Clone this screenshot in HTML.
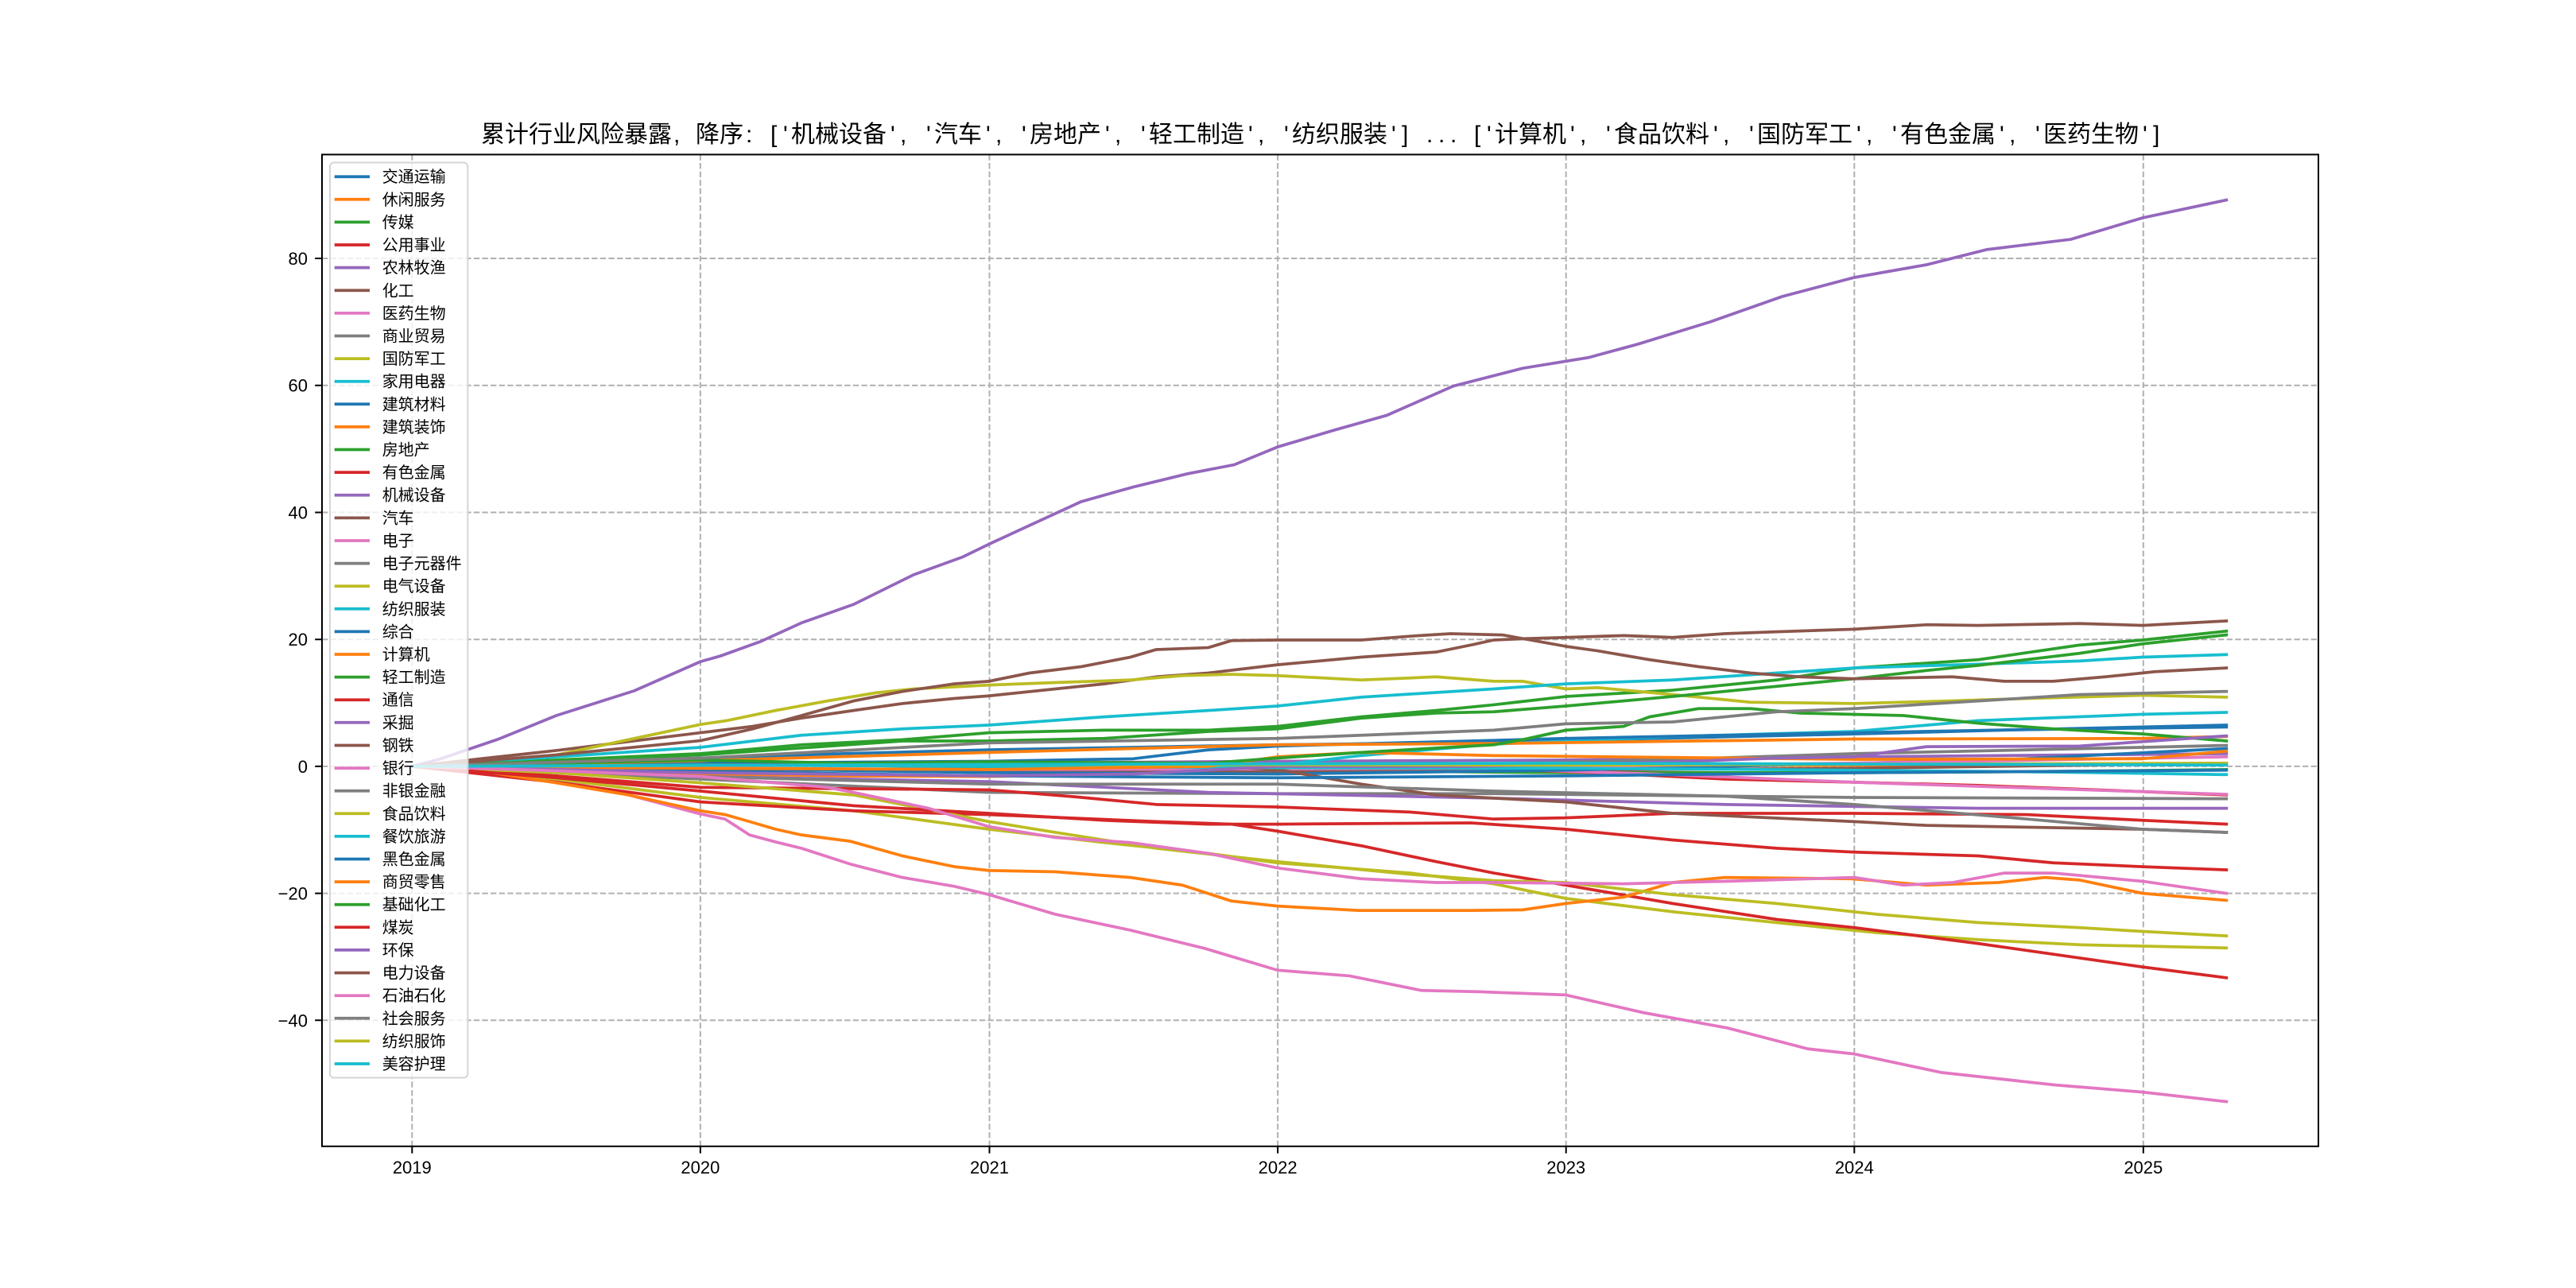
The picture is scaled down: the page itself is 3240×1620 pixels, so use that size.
<!DOCTYPE html>
<html><head><meta charset="utf-8">
<style>
html,body{margin:0;padding:0;background:#fff;width:3240px;height:1620px;overflow:hidden}
svg{display:block}
.d polyline{fill:none;stroke-width:3.75;vector-effect:non-scaling-stroke;stroke-linejoin:round;stroke-linecap:square}
text{font-family:"Liberation Sans","Noto Sans CJK SC",sans-serif;fill:#000}
.lg path{stroke-width:3.75;fill:none}
</style></head>
<body>
<svg width="3240" height="1620" viewBox="0 0 3240 1620" xmlns="http://www.w3.org/2000/svg">
<rect x="0" y="0" width="3240" height="1620" fill="#fff"/>
<!-- grid -->
<g stroke="#b0b0b0" stroke-width="2" stroke-dasharray="7.4 3.2" fill="none">
<path d="M518.3 194.4V1441.8M880.9 194.4V1441.8M1244.5 194.4V1441.8M1607.1 194.4V1441.8M1969.7 194.4V1441.8M2332.3 194.4V1441.8M2695.8 194.4V1441.8"/>
<path d="M405 325H2916M405 484.7H2916M405 644.5H2916M405 804.2H2916M405 963.9H2916M405 1123.6H2916M405 1283.3H2916"/>
</g>
<!-- data -->
<g class="d" transform="matrix(362.8 0 0 -7.986 518.3 963.9)">
<polyline stroke="#1f77b4" points="0,0 0.5,0.6 1,1.3 1.5,2 2,2.6 2.5,3 3,3.4 3.75,3.8 4.4,4.5 5,5.1 5.6,5.8 6.29,6.5"/>
<polyline stroke="#ff7f0e" points="0,0 0.5,-0.6 1,-1.2 1.5,-1.5 2,-1.6 2.4,-1.2 2.76,-0.3 3.5,0.3 4.3,0.1 5,0.2 5.7,0.3 6.29,0.5"/>
<polyline stroke="#2ca02c" points="0,0 0.5,0.3 1,0.5 1.5,0.2 2,-0.2 3,-0.6 4,-1 5,-1 5.7,-0.8 6.29,-0.5"/>
<polyline stroke="#d62728" points="0,0 0.5,-0.3 1,-0.5 2,-0.5 3,-0.3 3.67,-0.3 4.1,-1 4.55,-2 5,-2.5 5.43,-3 5.9,-3.8 6.29,-4.5"/>
<polyline stroke="#9467bd" points="0,0 1,0.3 2,0.5 3,0.8 4,1 5,1.5 6.29,2"/>
<polyline stroke="#8c564b" points="0,0 1,-0.5 2,-0.7 3,-0.8 4,-0.6 5,-0.3 6.29,0.5"/>
<polyline stroke="#e377c2" points="0,0 0.25,-0.8 0.5,-2.1 0.75,-4.5 1,-7.5 1.085,-8.3 1.17,-10.8 1.26,-11.9 1.35,-12.9 1.52,-15.4 1.7,-17.5 1.88,-18.9 2,-20.2 2.23,-23.3 2.49,-25.8 2.75,-28.7 3,-32.1 3.25,-33 3.5,-35.3 3.7,-35.5 4,-36 4.27,-38.8 4.56,-41.2 4.84,-44.5 5,-45.3 5.3,-48.2 5.7,-50.2 6,-51.3 6.29,-52.8"/>
<polyline stroke="#7f7f7f" points="0,0 1,0.3 2,0.2 3,0.2 3.67,0.3 4.3,1 5,2 5.6,2.6 6,3 6.29,3.3"/>
<polyline stroke="#bcbd22" points="0,0 0.5,-2 1,-4.9 1.53,-7 2,-9.9 2.4,-12 2.76,-13.7 3,-15.2 3.46,-16.8 3.75,-18.5 4,-20.8 4.37,-22.9 4.73,-24.6 5.08,-26.2 5.43,-27.3 5.78,-28.1 6.29,-28.6"/>
<polyline stroke="#17becf" points="0,0 1,0.3 2,0 2.76,0 3,0.2 3.29,1.7 3.75,3.5 4.37,4.7 5,5.5 5.43,7.2 6,8.2 6.29,8.5"/>
<polyline stroke="#1f77b4" points="0,0 1,0.5 2,0.8 2.5,1.2 2.76,2.6 3,3.2 4,4.4 5,5.3 5.6,5.8 6.29,6.2"/>
<polyline stroke="#ff7f0e" points="0,0 1,0.9 2,2.2 3,3.4 3.75,3.6 5,4.3 6,4.4 6.29,4.7"/>
<polyline stroke="#2ca02c" points="0,0 0.5,1 1,2 1.35,3.4 1.7,4.2 2,5.3 2.4,5.7 2.76,5.7 3,6.3 3.29,7.8 3.55,8.8 3.75,9.7 4,11 4.37,12 4.73,13.6 5,15.5 5.43,16.8 5.78,19.1 6,19.9 6.29,21.3"/>
<polyline stroke="#d62728" points="0,0 0.5,-2.5 1,-5.6 1.53,-7 2,-7.6 2.58,-8.7 2.84,-9.1 3,-10.2 3.29,-12.5 3.55,-15 3.75,-16.8 4,-18.7 4.37,-21.6 4.73,-24.1 5,-25.4 5.43,-27.9 6,-31.6 6.29,-33.3"/>
<polyline stroke="#9467bd" points="0,0 0.1,1.2 0.19,2.6 0.3,4.3 0.5,8 0.77,11.9 1,16.5 1.07,17.4 1.21,19.7 1.35,22.6 1.53,25.5 1.74,30.2 1.91,33 2,35 2.32,41.7 2.5,44 2.69,46.1 2.85,47.5 3,50.3 3.2,53 3.38,55.3 3.61,59.9 3.85,62.7 4.08,64.4 4.25,66.5 4.5,70 4.75,74 5,77 5.25,79 5.46,81.4 5.75,83 6,86.4 6.29,89.2"/>
<polyline stroke="#8c564b" points="0,0 0.5,2.5 1,5.3 1.18,6.3 1.35,7.6 1.53,8.8 1.7,9.9 1.88,10.7 2,11.1 2.23,12.2 2.4,13 2.58,14.1 2.76,14.7 3,16 3.29,17.2 3.55,18 3.68,19.2 3.75,19.9 3.85,20.1 4,20.3 4.2,20.6 4.37,20.3 4.55,20.9 4.73,21.2 5,21.6 5.25,22.3 5.43,22.2 5.78,22.5 6,22.2 6.29,22.9"/>
<polyline stroke="#e377c2" points="0,0 1,-0.3 2,-0.5 3,-0.4 3.67,-0.3 4.3,-1.2 5,-2.5 5.6,-3.4 6.29,-4.4"/>
<polyline stroke="#7f7f7f" points="0,0 1,-2 2,-4.1 3,-4.3 3.75,-4.3 5,-4.9 6.29,-5.1"/>
<polyline stroke="#bcbd22" points="0,0 0.25,0.6 0.5,1.8 0.75,4.2 1,6.6 1.09,7.2 1.26,8.8 1.44,10.3 1.61,11.6 1.74,12.2 2,12.8 2.23,13.2 2.49,13.6 2.67,14.3 2.84,14.5 3,14.3 3.29,13.6 3.55,14.1 3.75,13.4 3.85,13.4 4,12.2 4.11,12.4 4.37,11.3 4.64,10.1 5,9.9 5.25,10.2 5.6,10.7 6,11.2 6.29,10.9"/>
<polyline stroke="#17becf" points="0,0 0.5,1.5 1,3 1.35,4.9 1.7,5.9 2,6.5 2.4,7.8 2.76,8.8 3,9.5 3.29,10.9 3.75,12.2 4,13 4.37,13.6 4.73,14.7 5,15.5 5.43,16.1 5.78,16.6 6,17.2 6.29,17.6"/>
<polyline stroke="#1f77b4" points="0,0 1,-0.3 2,-1 3,-1.2 4,-0.6 5,0.5 5.5,1 6.29,2.8"/>
<polyline stroke="#ff7f0e" points="0,0 0.25,-0.8 0.5,-2.6 0.75,-4.5 1,-7 1.085,-7.6 1.17,-8.7 1.26,-9.9 1.35,-10.8 1.52,-11.8 1.7,-14.1 1.88,-15.8 2,-16.4 2.23,-16.6 2.49,-17.5 2.67,-18.7 2.84,-21.2 3,-22 3.28,-22.7 3.67,-22.7 3.85,-22.6 4,-21.6 4.2,-20.6 4.37,-18.3 4.55,-17.5 4.99,-17.7 5.25,-18.7 5.5,-18.3 5.66,-17.5 5.78,-17.9 6,-20 6.29,-21.1"/>
<polyline stroke="#2ca02c" points="0,0 0.5,0.9 1,1.8 1.7,4 2,4 2.4,4.4 2.76,5.5 3,5.9 3.29,7.6 3.55,8.4 3.75,8.6 4,9.5 4.37,11 4.73,12.6 5,13.8 5.25,15.1 5.43,15.9 5.78,17.8 6,19.3 6.29,20.7"/>
<polyline stroke="#d62728" points="0,0 0.5,-1.5 1,-3.3 2,-3.7 2.3,-4.8 2.58,-6 3,-6.4 3.46,-7.2 3.75,-8.3 4,-8.1 4.37,-7.4 5,-7.4 5.6,-7.6 6,-8.5 6.29,-9.1"/>
<polyline stroke="#9467bd" points="0,0 0.5,-0.7 1,-1.6 2,-2.4 2.76,-4.1 3.75,-5 4.55,-6 5.43,-6.6 6.29,-6.6"/>
<polyline stroke="#8c564b" points="0,0 1,0.2 2,0.3 2.76,0.1 3,-0.5 3.29,-2.8 3.55,-4.5 3.75,-5 4,-5.6 4.37,-7.4 5,-8.7 5.25,-9.3 6,-9.9 6.29,-10.4"/>
<polyline stroke="#e377c2" points="0,0 2,0.2 4,0 5,0.5 6.29,1.5"/>
<polyline stroke="#7f7f7f" points="0,0 1,-1.6 2,-2.8 3,-2.8 3.75,-3.9 4.55,-4.7 5,-6 5.6,-8.3 6,-9.9 6.29,-10.4"/>
<polyline stroke="#bcbd22" points="0,0 0.5,-1 1,-2.6 1.53,-4.5 2,-8.7 2.23,-10.4 2.58,-12.9 3,-15 3.46,-17 3.75,-18 4,-18.3 4.37,-20.2 4.73,-21.6 5.08,-23.3 5.43,-24.6 5.78,-25.4 6,-26 6.29,-26.7"/>
<polyline stroke="#17becf" points="0,0 1,0.2 2,0 3,-0.2 4,-0.3 5,-0.6 5.7,-0.9 6.29,-1.3"/>
<polyline stroke="#1f77b4" points="0,0 1,-0.8 2,-1.5 3,-1.8 4,-1.5 5,-1 6.29,-0.6"/>
<polyline stroke="#ff7f0e" points="0,0 1,-0.3 2,-0.5 2.76,0 3,1.5 3.29,2.2 3.75,1.7 5,1.1 6,1.2 6.29,2.4"/>
<polyline stroke="#2ca02c" points="0,0 1,1 1.5,0.5 2,0.7 2.76,0.5 3,1.3 3.29,2.2 3.75,3.4 3.85,4.2 4,5.7 4.2,6.3 4.29,7.8 4.46,9.1 4.64,9.1 4.81,8.4 5.17,8 5.43,6.8 5.69,5.9 6,5.1 6.29,4"/>
<polyline stroke="#d62728" points="0,0 0.5,-1.8 1,-3.9 1.53,-6.2 2,-7.4 2.4,-8.5 2.76,-9.1 3,-9.1 3.67,-8.9 4,-9.9 4.37,-11.6 4.73,-12.9 5,-13.5 5.43,-14.1 5.69,-15.2 6,-15.8 6.29,-16.3"/>
<polyline stroke="#9467bd" points="0,0 1,-1 2,-1.5 2.5,-1.2 3,0 3.67,0 4.37,0.7 4.73,1.3 5,1.5 5.25,3.1 5.78,3.2 6.29,4.8"/>
<polyline stroke="#8c564b" points="0,0 0.5,1.8 1,4.05 1.18,5.9 1.35,8 1.53,10.3 1.7,11.8 1.88,13 2,13.4 2.14,14.7 2.32,15.7 2.49,17.2 2.58,18.4 2.76,18.7 2.84,19.8 3,19.9 3.29,19.9 3.46,20.5 3.6,20.9 3.78,20.7 4,18.9 4.11,18.2 4.29,16.8 4.46,15.7 4.64,14.7 4.81,14.1 5,13.8 5.34,14.1 5.52,13.4 5.69,13.4 5.87,14.1 6.04,14.9 6.29,15.5"/>
<polyline stroke="#e377c2" points="0,0 0.5,-0.7 1,-1.6 1.44,-3.3 1.53,-4.1 1.79,-6.6 2,-9.5 2.23,-11.2 2.49,-12 2.76,-13.7 3,-16 3.29,-17.7 3.55,-18.3 3.75,-18.3 4.2,-18.5 4.55,-18.1 5,-17.5 5.17,-18.7 5.34,-18.3 5.52,-16.8 5.69,-16.8 6,-18.1 6.29,-20"/>
<polyline stroke="#7f7f7f" points="0,0 1,1.3 2,3.7 3,4.4 3.75,5.7 4,6.7 4.37,7 4.73,8.6 5,9.1 5.43,10.3 5.78,11.3 6.29,11.8"/>
<polyline stroke="#bcbd22" points="0,0 2,0.3 4,0.2 6.29,0.5"/>
<polyline stroke="#17becf" points="0,0 2,0.3 4,0.5 6.29,0.2"/>
</g>
<!-- spines -->
<rect x="405" y="194.4" width="2511" height="1247.4" fill="none" stroke="#000" stroke-width="2"/>
<!-- ticks -->
<g stroke="#000" stroke-width="2">
<path d="M518.3 1441.8V1450.6M880.9 1441.8V1450.6M1244.5 1441.8V1450.6M1607.1 1441.8V1450.6M1969.7 1441.8V1450.6M2332.3 1441.8V1450.6M2695.8 1441.8V1450.6"/>
<path d="M396.2 325H405M396.2 484.7H405M396.2 644.5H405M396.2 804.2H405M396.2 963.9H405M396.2 1123.6H405M396.2 1283.3H405"/>
</g>
<g font-size="22" text-anchor="middle">
<text x="518.3" y="1476">2019</text>
<text x="880.9" y="1476">2020</text>
<text x="1244.5" y="1476">2021</text>
<text x="1607.1" y="1476">2022</text>
<text x="1969.7" y="1476">2023</text>
<text x="2332.3" y="1476">2024</text>
<text x="2695.8" y="1476">2025</text>
</g>
<g font-size="22" text-anchor="end">
<text x="387" y="333">80</text>
<text x="387" y="492.7">60</text>
<text x="387" y="652.5">40</text>
<text x="387" y="812.2">20</text>
<text x="387" y="971.9">0</text>
<text x="387" y="1131.6">−20</text>
<text x="387" y="1291.3">−40</text>
</g>
<!-- title -->
<text font-size="30" y="179" style="white-space:pre" x="605 635 665 695 725 755 785 815 847 860 875 905 938 950 969 985 995 1025 1055 1085 1120 1132 1145 1165 1175 1205 1240 1252 1265 1285 1295 1325 1355 1390 1402 1415 1435 1445 1475 1505 1535 1570 1582 1595 1615 1625 1655 1685 1715 1750 1763 1775 1794 1809 1824 1835 1854 1870 1880 1910 1940 1975 1987 2000 2020 2030 2060 2090 2120 2155 2167 2180 2200 2210 2240 2270 2300 2335 2347 2360 2380 2390 2420 2450 2480 2515 2527 2540 2560 2570 2600 2630 2660 2695 2708">累计行业风险暴露, 降序: ['机械设备', '汽车', '房地产', '轻工制造', '纺织服装'] ... ['计算机', '食品饮料', '国防军工', '有色金属', '医药生物']</text>
<!-- legend -->
<rect x="415" y="204.5" width="173.3" height="1151" rx="5" ry="5" fill="#fff" fill-opacity="0.8" stroke="#d5d5d5" stroke-width="2"/>
<g class="lg">
<path stroke="#1f77b4" d="M420.7 222.2H465"/>
<path stroke="#ff7f0e" d="M420.7 250.8H465"/>
<path stroke="#2ca02c" d="M420.7 279.4H465"/>
<path stroke="#d62728" d="M420.7 308H465"/>
<path stroke="#9467bd" d="M420.7 336.6H465"/>
<path stroke="#8c564b" d="M420.7 365.3H465"/>
<path stroke="#e377c2" d="M420.7 393.9H465"/>
<path stroke="#7f7f7f" d="M420.7 422.5H465"/>
<path stroke="#bcbd22" d="M420.7 451.1H465"/>
<path stroke="#17becf" d="M420.7 479.7H465"/>
<path stroke="#1f77b4" d="M420.7 508.3H465"/>
<path stroke="#ff7f0e" d="M420.7 536.9H465"/>
<path stroke="#2ca02c" d="M420.7 565.5H465"/>
<path stroke="#d62728" d="M420.7 594.1H465"/>
<path stroke="#9467bd" d="M420.7 622.7H465"/>
<path stroke="#8c564b" d="M420.7 651.4H465"/>
<path stroke="#e377c2" d="M420.7 680H465"/>
<path stroke="#7f7f7f" d="M420.7 708.6H465"/>
<path stroke="#bcbd22" d="M420.7 737.2H465"/>
<path stroke="#17becf" d="M420.7 765.8H465"/>
<path stroke="#1f77b4" d="M420.7 794.4H465"/>
<path stroke="#ff7f0e" d="M420.7 823H465"/>
<path stroke="#2ca02c" d="M420.7 851.6H465"/>
<path stroke="#d62728" d="M420.7 880.2H465"/>
<path stroke="#9467bd" d="M420.7 908.8H465"/>
<path stroke="#8c564b" d="M420.7 937.5H465"/>
<path stroke="#e377c2" d="M420.7 966.1H465"/>
<path stroke="#7f7f7f" d="M420.7 994.7H465"/>
<path stroke="#bcbd22" d="M420.7 1023.3H465"/>
<path stroke="#17becf" d="M420.7 1051.9H465"/>
<path stroke="#1f77b4" d="M420.7 1080.5H465"/>
<path stroke="#ff7f0e" d="M420.7 1109.1H465"/>
<path stroke="#2ca02c" d="M420.7 1137.7H465"/>
<path stroke="#d62728" d="M420.7 1166.3H465"/>
<path stroke="#9467bd" d="M420.7 1194.9H465"/>
<path stroke="#8c564b" d="M420.7 1223.6H465"/>
<path stroke="#e377c2" d="M420.7 1252.2H465"/>
<path stroke="#7f7f7f" d="M420.7 1280.8H465"/>
<path stroke="#bcbd22" d="M420.7 1309.4H465"/>
<path stroke="#17becf" d="M420.7 1338H465"/>
</g>
<g font-size="20">
<text x="480.7" y="229.2">交通运输</text>
<text x="480.7" y="257.8">休闲服务</text>
<text x="480.7" y="286.4">传媒</text>
<text x="480.7" y="315">公用事业</text>
<text x="480.7" y="343.6">农林牧渔</text>
<text x="480.7" y="372.3">化工</text>
<text x="480.7" y="400.9">医药生物</text>
<text x="480.7" y="429.5">商业贸易</text>
<text x="480.7" y="458.1">国防军工</text>
<text x="480.7" y="486.7">家用电器</text>
<text x="480.7" y="515.3">建筑材料</text>
<text x="480.7" y="543.9">建筑装饰</text>
<text x="480.7" y="572.5">房地产</text>
<text x="480.7" y="601.1">有色金属</text>
<text x="480.7" y="629.7">机械设备</text>
<text x="480.7" y="658.4">汽车</text>
<text x="480.7" y="687">电子</text>
<text x="480.7" y="715.6">电子元器件</text>
<text x="480.7" y="744.2">电气设备</text>
<text x="480.7" y="772.8">纺织服装</text>
<text x="480.7" y="801.4">综合</text>
<text x="480.7" y="830">计算机</text>
<text x="480.7" y="858.6">轻工制造</text>
<text x="480.7" y="887.2">通信</text>
<text x="480.7" y="915.8">采掘</text>
<text x="480.7" y="944.5">钢铁</text>
<text x="480.7" y="973.1">银行</text>
<text x="480.7" y="1001.7">非银金融</text>
<text x="480.7" y="1030.3">食品饮料</text>
<text x="480.7" y="1058.9">餐饮旅游</text>
<text x="480.7" y="1087.5">黑色金属</text>
<text x="480.7" y="1116.1">商贸零售</text>
<text x="480.7" y="1144.7">基础化工</text>
<text x="480.7" y="1173.3">煤炭</text>
<text x="480.7" y="1201.9">环保</text>
<text x="480.7" y="1230.6">电力设备</text>
<text x="480.7" y="1259.2">石油石化</text>
<text x="480.7" y="1287.8">社会服务</text>
<text x="480.7" y="1316.4">纺织服饰</text>
<text x="480.7" y="1345">美容护理</text>
</g>
</svg>
</body></html>
